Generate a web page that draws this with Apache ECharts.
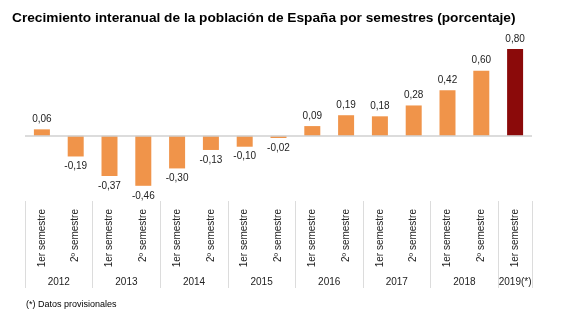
<!DOCTYPE html>
<html>
<head>
<meta charset="utf-8">
<script src="https://cdn.jsdelivr.net/npm/echarts@6/dist/echarts.min.js"></script>
<style>html,body{margin:0;padding:0;background:#fff}#c{width:563px;height:323px}</style>
</head>
<body>
<div id="c"></div>
<script>
var semesters = ['1er semestre','2º semestre','1er semestre','2º semestre','1er semestre','2º semestre','1er semestre','2º semestre','1er semestre','2º semestre','1er semestre','2º semestre','1er semestre','2º semestre','1er semestre'];
var values = [0.06,-0.19,-0.37,-0.46,-0.30,-0.13,-0.10,-0.02,0.09,0.19,0.18,0.28,0.42,0.60,0.80];
var years = ['2012','2013','2014','2015','2016','2017','2018','2019(*)'];
var yearCenters = [1,3,5,7,9,11,13,14.5];
var groupBounds = [0,2,4,6,8,10,12,14,15];

var orange = '#F0944A', darkRed = '#8B0A0A';
var font = 'Liberation Sans, Arial, sans-serif';
var chart = echarts.init(document.getElementById('c'));
chart.setOption({
  animation: false,
  title: [
    {text: 'Crecimiento interanual de la población de España por semestres (porcentaje)', left: 7, top: 6,
     textStyle: {fontFamily: font, fontSize: 13.7, fontWeight: 'bold', color: '#000'}},
    {text: '(*) Datos provisionales', left: 21, top: 295,
     textStyle: {fontFamily: font, fontSize: 9, fontWeight: 'normal', color: '#000'}}
  ],
  grid: {left: 25, right: 31, top: 49, height: 152, containLabel: false},
  xAxis: [
    {type: 'category', data: semesters, position: 'bottom',
     axisLine: {show: false}, axisTick: {show: false},
     axisLabel: {rotate: 90, margin: 8, fontSize: 10, color: '#222', fontFamily: font, interval: 0}},
    {type: 'value', min: 0, max: 15, position: 'bottom',
     axisLine: {show: false}, splitLine: {show: false},
     axisTick: {show: true, customValues: groupBounds, length: 87, lineStyle: {color: '#dcdcdc', width: 1}},
     axisLabel: {show: true, customValues: yearCenters, margin: 76, fontSize: 10, color: '#222', fontFamily: font,
       formatter: function (v) { var i = yearCenters.indexOf(v); return i >= 0 ? years[i] : ''; }}}
  ],
  yAxis: {type: 'value', min: -0.6, max: 0.8, show: false},
  series: [{
    type: 'bar', xAxisIndex: 0, barWidth: 16,
    data: values.map(function (v) { return v < 0 ? {value: v, label: {position: 'bottom'}} : v; }),
    itemStyle: {color: function (p) { return p.dataIndex === values.length - 1 ? darkRed : orange; }},
    label: {show: true, position: 'top', distance: 5, fontSize: 10, color: '#222', fontFamily: font,
      formatter: function (p) { return p.value.toFixed(2).replace('.', ','); }},
    markLine: {silent: true, symbol: 'none', label: {show: false},
      lineStyle: {color: '#d0d0d0', width: 1.5, type: 'solid'}, data: [{yAxis: 0}]}
  }]
});
</script>
</body>
</html>
